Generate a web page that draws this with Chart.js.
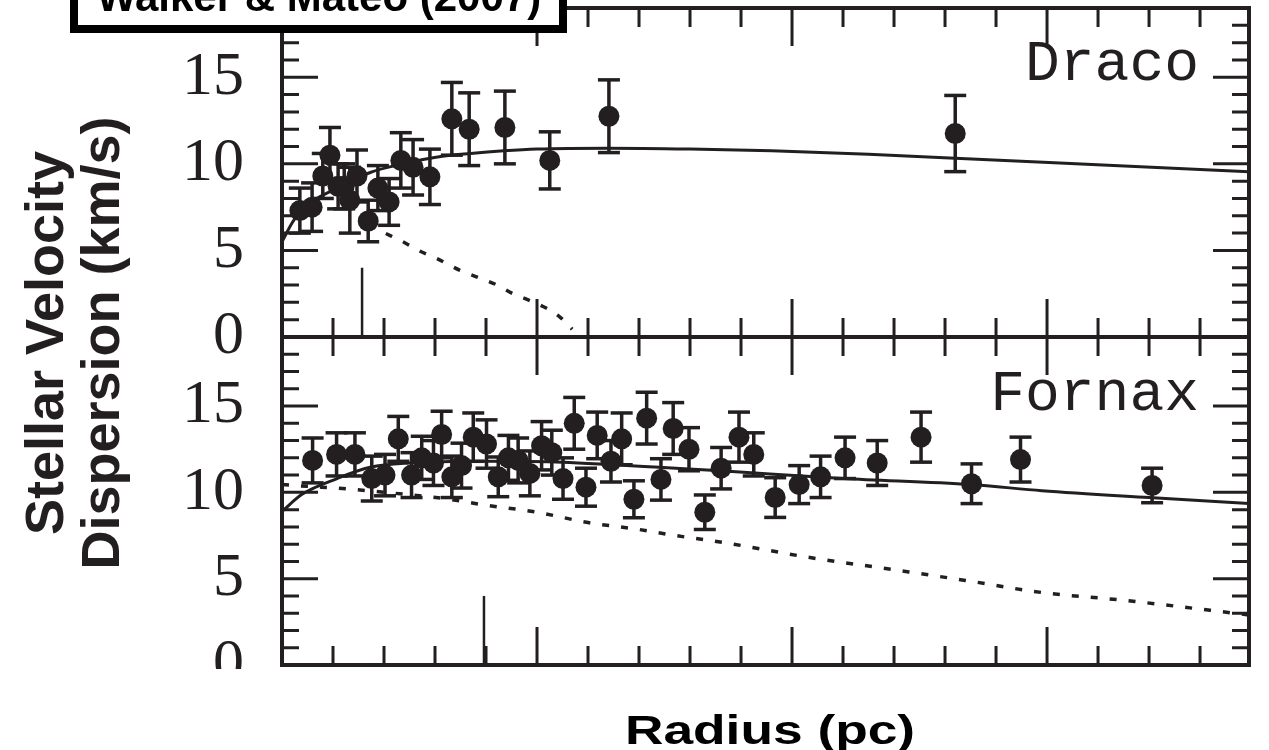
<!DOCTYPE html>
<html lang="en">
<head>
<meta charset="UTF-8">
<title>Walker &amp; Mateo (2007)</title>
<script src="https://cdn.jsdelivr.net/npm/chart.js"></script>
<style>
  html, body { margin: 0; padding: 0; background: #fff; }
  #wrap { position: relative; width: 1269px; height: 750px; overflow: hidden; }
  canvas { position: absolute; left: 0; top: 0; }
</style>
</head>
<body>
<div id="wrap">
  <canvas id="draco" width="1269" height="750"></canvas>
  <canvas id="fornax" width="1269" height="750"></canvas>
</div>
<script>
// radius in pc, dispersion in km/s
const dracoR     = [35, 59, 80, 94, 110, 122, 133, 147, 169, 188, 210, 233, 257, 290, 333, 367, 437, 525, 641, 1320];
const dracoSigma = [7.3, 7.5, 9.3, 10.5, 8.7, 8.7, 7.9, 9.3, 6.7, 8.6, 7.8, 10.2, 9.8, 9.25, 12.6, 12.0, 12.1, 10.2, 12.75, 11.75];
const dracoErr   = [1.3, 1.4, 1.3, 1.6, 1.3, 1.3, 1.9, 1.5, 1.2, 1.3, 1.35, 1.6, 1.6, 1.6, 2.1, 2.1, 2.1, 1.65, 2.1, 2.2];

const fornaxR     = [60, 107, 143, 176, 202, 228, 254, 274, 297, 313, 333, 352, 375, 401, 424, 444, 463, 486, 509, 529, 551, 573, 596, 618, 645, 666, 690, 715, 743, 767, 798, 829, 861, 896, 925, 967, 1014, 1056, 1104, 1167, 1253, 1352, 1448, 1706];
const fornaxSigma = [11.85, 12.2, 12.2, 10.8, 11.0, 13.1, 11.0, 12.0, 11.7, 13.35, 10.9, 11.55, 13.2, 12.8, 10.9, 12.0, 11.85, 11.1, 12.7, 12.3, 10.8, 14.0, 10.3, 13.3, 11.8, 13.1, 9.6, 14.3, 10.75, 13.7, 12.5, 8.85, 11.4, 13.2, 12.2, 9.7, 10.45, 10.9, 12.0, 11.7, 13.2, 10.5, 11.9, 10.4];
const fornaxErr   = [1.3, 1.25, 1.25, 1.3, 1.2, 1.3, 1.3, 1.25, 1.3, 1.35, 1.2, 1.3, 1.4, 1.4, 1.15, 1.3, 1.3, 1.3, 1.4, 1.3, 1.2, 1.5, 1.1, 1.35, 1.2, 1.5, 1.07, 1.5, 1.2, 1.5, 1.25, 1.0, 1.2, 1.45, 1.25, 1.15, 1.1, 1.2, 1.2, 1.3, 1.45, 1.15, 1.3, 1.0];

// model curves: solid = total, dotted = stars only
const dracoModelR     = [0, 20, 40, 108, 173, 237, 305, 370, 435, 500, 640, 800, 960, 1150, 1320, 1620, 1896];
const dracoModelSigma = [5.5, 6.6, 7.4, 8.6, 9.5, 10.0, 10.4, 10.6, 10.75, 10.85, 10.9, 10.85, 10.75, 10.55, 10.33, 9.92, 9.55];
const dracoStarsR     = [170, 202, 237, 271, 306, 349, 384, 422, 453, 486, 516, 545, 569];
const dracoStarsSigma = [6.45, 6.0, 5.5, 4.95, 4.5, 3.85, 3.45, 3.0, 2.5, 2.1, 1.7, 1.15, 0.45];

const fornaxModelR     = [0, 40, 108, 173, 250, 400, 550, 650, 740, 860, 1100, 1350, 1490, 1700, 1896];
const fornaxModelSigma = [8.9, 9.9, 10.8, 11.45, 11.7, 11.8, 11.75, 11.6, 11.45, 11.25, 10.8, 10.45, 10.1, 9.7, 9.35];
const fornaxStarsR     = [0, 50, 127, 237, 316, 402, 500, 600, 700, 760, 875, 1030, 1180, 1340, 1490, 1650, 1896];
const fornaxStarsSigma = [10.45, 10.35, 10.2, 9.9, 9.65, 9.25, 8.85, 8.25, 7.85, 7.55, 7.05, 6.25, 5.6, 4.9, 4.2, 3.75, 2.9];

// vertical marker lines
const dracoMarkR = 157, fornaxMarkR = 396, markTop = 4;

const yTicks = [0, 5, 10, 15];
const yMax = 19, xMax = 1896, xStep = 100, xMajor = 500;

const ink = '#231f20';

const zip = (xs, ys) => xs.map((x, i) => ({x, y: ys[i]}));
function errorBars(r, s, e) {
  const pts = [];
  r.forEach((x, i) => pts.push({x, y: s[i] - e[i]}, {x, y: s[i] + e[i]}, {x, y: null}));
  return pts;
}

// frame and inward ticks on all four sides
const frameTicks = {
  id: 'frameTicks',
  afterDatasetsDraw(chart) {
    const {ctx, chartArea: a, scales: {x, y}} = chart;
    ctx.save();
    ctx.strokeStyle = ink;
    ctx.lineWidth = 3;
    ctx.beginPath();
    for (let v = 1; v < yMax; v++) {
      const py = y.getPixelForValue(v);
      const len = v % 5 === 0 ? 36 : 17;
      ctx.moveTo(a.left, py); ctx.lineTo(a.left + len, py);
      ctx.moveTo(a.right, py); ctx.lineTo(a.right - len, py);
    }
    for (let v = xStep; v < xMax; v += xStep) {
      const px = x.getPixelForValue(v);
      const len = v % xMajor === 0 ? 38 : 19;
      ctx.moveTo(px, a.top); ctx.lineTo(px, a.top + len);
      ctx.moveTo(px, a.bottom); ctx.lineTo(px, a.bottom - len);
    }
    ctx.stroke();
    ctx.lineWidth = 4;
    ctx.strokeRect(a.left, a.top, a.right - a.left, a.bottom - a.top);
    ctx.restore();
  }
};

function makePanel(id, d, padTop, bottomSpace, textPlugin) {
  return new Chart(document.getElementById(id), {
    data: {
      datasets: [
        { type: 'scatter', data: zip(d.r, d.s), pointRadius: 10.5, backgroundColor: ink, borderWidth: 0, order: 0 },
        { type: 'line', data: errorBars(d.r, d.s, d.e), borderColor: ink, borderWidth: 3.5,
          pointStyle: 'line', pointRadius: 11, pointBorderWidth: 3.5, pointBorderColor: ink, spanGaps: false, order: 1 },
        { type: 'line', data: zip(d.mr, d.ms), borderColor: ink, borderWidth: 3, pointRadius: 0,
          cubicInterpolationMode: 'monotone', order: 2 },
        { type: 'line', data: zip(d.sr, d.ss), borderColor: ink, borderWidth: 3.5, borderDash: [7, 12], pointRadius: 0,
          cubicInterpolationMode: 'monotone', order: 3 },
        { type: 'line', data: [{x: d.mark, y: 0}, {x: d.mark, y: markTop}], borderColor: ink, borderWidth: 2.5, pointRadius: 0, order: 4 }
      ]
    },
    options: {
      responsive: false,
      animation: false,
      events: [],
      layout: { autoPadding: false, padding: { top: padTop, right: 20, left: 0, bottom: 0 } },
      plugins: { legend: { display: false }, tooltip: { enabled: false } },
      scales: {
        x: { type: 'linear', min: 0, max: xMax,
             ticks: { display: false }, grid: { display: false, drawTicks: false }, border: { display: false },
             afterFit: s => { s.height = bottomSpace; s.paddingLeft = 0; s.paddingRight = 0; } },
        y: { type: 'linear', min: 0, max: yMax,
             afterBuildTicks: s => { s.ticks = yTicks.map(v => ({value: v})); },
             ticks: { padding: 38, color: ink, font: { family: 'Liberation Serif', size: 62 } },
             grid: { display: false, drawTicks: false }, border: { display: false },
             afterFit: s => { s.width = 282; s.paddingTop = 0; s.paddingBottom = 0; } }
      }
    },
    plugins: [frameTicks, textPlugin]
  });
}

const dracoText = {
  id: 'dracoText',
  afterDraw(chart) {
    const ctx = chart.ctx;
    ctx.save();
    ctx.fillStyle = ink;
    ctx.textBaseline = 'alphabetic';
    ctx.font = '58px "Liberation Mono"';
    ctx.textAlign = 'right';
    ctx.fillText('Draco', 1199, 80);

    // y axis title, two lines
    ctx.font = 'bold 54px "Liberation Sans"';
    ctx.textAlign = 'center';
    ctx.translate(63, 343);
    ctx.rotate(-Math.PI / 2);
    ctx.fillText('Stellar Velocity', 0, 0);
    ctx.fillText('Dispersion (km/s)', 0, 56);
    ctx.restore();

    // caption box, cut at the top of the picture
    ctx.save();
    ctx.fillStyle = '#fff';
    ctx.fillRect(70, -20, 497, 53);
    ctx.strokeStyle = '#000';
    ctx.lineWidth = 8;
    ctx.strokeRect(74, -30, 489, 59);
    ctx.fillStyle = '#000';
    ctx.font = 'bold 42px "Liberation Sans"';
    ctx.textAlign = 'center';
    ctx.textBaseline = 'alphabetic';
    ctx.fillText('Walker & Mateo (2007)', 319, 11);
    ctx.restore();
  }
};

const fornaxText = {
  id: 'fornaxText',
  afterDraw(chart) {
    const ctx = chart.ctx;
    ctx.save();
    // bottom tick label is cropped in the original
    ctx.fillStyle = '#fff';
    ctx.fillRect(140, 669, 135, 40);
    ctx.fillStyle = ink;
    ctx.textBaseline = 'alphabetic';
    ctx.font = '58px "Liberation Mono"';
    ctx.textAlign = 'right';
    ctx.fillText('Fornax', 1199, 410);

    ctx.fillStyle = '#000';
    ctx.font = 'bold 41px "Liberation Sans"';
    ctx.textAlign = 'center';
    ctx.translate(770, 744);
    ctx.scale(1.3, 1);
    ctx.fillText('Radius (pc)', 0, 0);
    ctx.restore();
  }
};

makePanel('draco', {
  r: dracoR, s: dracoSigma, e: dracoErr,
  mr: dracoModelR, ms: dracoModelSigma, sr: dracoStarsR, ss: dracoStarsSigma, mark: dracoMarkR
}, 8, 750 - 337, dracoText);

makePanel('fornax', {
  r: fornaxR, s: fornaxSigma, e: fornaxErr,
  mr: fornaxModelR, ms: fornaxModelSigma, sr: fornaxStarsR, ss: fornaxStarsSigma, mark: fornaxMarkR
}, 337, 750 - 665, fornaxText);
</script>
</body>
</html>
